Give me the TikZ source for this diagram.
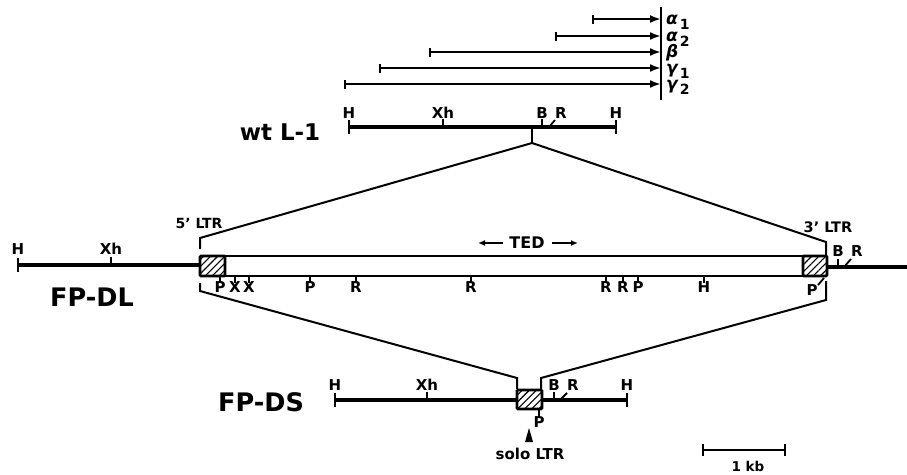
\documentclass[tikz,border=0pt]{standalone}
\usepackage{fontspec}
\setmainfont{DejaVu Sans}
\usetikzlibrary{arrows.meta,patterns.meta}

\tikzset{
  dna/.style={line width=3.2pt},
  rail/.style={line width=2.8pt},
  link/.style={line width=2pt},
  cut/.style={line width=1.8pt},
  tx/.style={line width=2.6pt,
    {Bar[width=9pt,line width=2pt]}-{Latex[length=11pt,width=8pt]}},
  tedarrow/.style={line width=1.8pt,-{Latex[length=7pt,width=6pt]}},
  site/.style={font=\fontsize{15}{15}\selectfont\bfseries, inner sep=0pt},
  ltrlabel/.style={font=\fontsize{14}{14}\selectfont\bfseries, inner sep=0pt},
  big/.style={font=\fontsize{25.5}{25.5}\selectfont\bfseries, inner sep=0pt},
  greek/.style={font=\fontsize{17}{17}\selectfont\bfseries\itshape, inner sep=0pt, anchor=base west},
  ltrbox/.style={draw, line width=2.8pt, fill=white,
    postaction={pattern={Lines[angle=45,distance=5pt,line width=1.1pt]}},
    rounded corners=1pt},
  endbar/.style={line width=2.2pt}
}

\newcommand{\gsub}[1]{\hspace{2pt}\raisebox{-5pt}{\fontsize{14}{14}\selectfont\bfseries\upshape #1}}

\begin{document}
\begin{tikzpicture}[x=1pt,y=-1pt]
\useasboundingbox (0,0) rectangle (907,474);

% ---------------- transcripts ----------------
\coordinate (axtop) at (661,7);
\coordinate (axbot) at (661,100);
\draw[line width=1.8pt] (axtop) -- (axbot);
\foreach \name/\xs/\y/\lab in {a1/592/19/{α\gsub{1}},
                               a2/555/36/{α\gsub{2}},
                               b/429/52/{β},
                               g1/379/68/{γ\gsub{1}},
                               g2/344/84/{γ\gsub{2}}}{
  \coordinate (\name s) at (\xs,\y);
  \draw[tx] (\name s) -- (\name s -| axtop);
  \node[greek] (\name lab) at (666,\y+5) {\lab};
}

% ---------------- wt L-1 ----------------
\node[big,font=\fontsize{23}{23}\selectfont\bfseries] (wtlab) at (280,132) {wt L-1};
\coordinate (wtL) at (349,127);
\coordinate (wtR) at (616,127);
\draw[dna] (wtL) -- (wtR);
\draw[endbar] (349,120) -- (349,134);
\draw[endbar] (616,120) -- (616,134);
\node[site,anchor=south] at (349,119) {H};
\node[site,anchor=south] at (616,119) {H};
\draw[cut] (443,127) -- (443,119);
\node[site,anchor=south] at (443,119) {Xh};
\draw[cut] (542,127) -- (542,119);
\node[site,anchor=south] at (542,119) {B};
\draw[cut] (549,127) -- (555,120);
\node[site,anchor=south] at (561,119) {R};
\coordinate (apex) at (532,143);
\draw[link] (532,129) -- (apex);

% ---------------- FP-DL ----------------
\node[big] (dllab) at (92,297) {FP-DL};
\coordinate (dlL) at (18,265);
\coordinate (box5w) at (200,265);
\draw[dna] (dlL) -- (box5w);
\draw[endbar] (18,258) -- (18,272);
\node[site,anchor=south] at (18,255) {H};
\draw[cut] (111,265) -- (111,257);
\node[site,anchor=south] at (111,255) {Xh};

% internal region (TED)
\draw[rail] (225,256) -- (803,256);
\draw[rail] (225,276) -- (803,276);
\node[ltrbox] (ltr5) at (212.5,266) [minimum width=25pt, minimum height=20pt] {};
\node[ltrbox] (ltr3) at (815,266) [minimum width=24pt, minimum height=20pt] {};

% sites below the element
\foreach \x/\l in {220/P,235/X,249/X,310/P,356/R,471/R,606/R,623/R,638/P,704/H}{
  \draw[cut] (\x,276) -- (\x,283);
  \node[site,anchor=north] at (\x,281) {\l};
}

% TED label
\node[ltrlabel,font=\fontsize{16}{16}\selectfont\bfseries] (ted) at (527,243) {TED};
\coordinate (tedLt) at (503,243);
\coordinate (tedLh) at (478,243);
\coordinate (tedRt) at (552,243);
\coordinate (tedRh) at (578,243);
\draw[tedarrow] (tedLt) -- (tedLh);
\draw[tedarrow] (tedRt) -- (tedRh);

% right flank
\coordinate (dlR) at (907,267);
\draw[dna] (ltr3.east |- dlR) -- (dlR);
\draw[cut] (838,267) -- (838,259);
\node[site,anchor=south] at (838,257) {B};
\draw[cut] (844,267) -- (851,259);
\node[site,anchor=south] at (857,257) {R};
\draw[cut] (824,278) -- (818,285);
\node[site,anchor=north] at (812,284) {P};

% LTR labels
\node[ltrlabel] (l5) at (199,223) {5' LTR};
\node[ltrlabel,font=\fontsize{14.5}{14.5}\selectfont\bfseries] (l3) at (828,227) {3' LTR};

% ---------------- brackets ----------------
\coordinate (u5) at (200,238);
\coordinate (u3) at (826,242);
\draw[link] (200,249) -- (u5) -- (apex) -- (u3) -- (826,256);

\coordinate (d5) at (200,291);
\coordinate (d3) at (826,300);
\coordinate (s5) at (517,378);
\coordinate (s3) at (541,378);
\draw[link] (200,283) -- (d5) -- (s5) -- (517,389);
\draw[link] (826,281) -- (d3) -- (s3) -- (541,389);

% ---------------- FP-DS ----------------
\node[big] (dslab) at (261,402) {FP-DS};
\coordinate (dsL) at (335,400);
\coordinate (dsR) at (627,400);
\draw[dna] (dsL) -- (dsR);
\draw[endbar] (335,393) -- (335,407);
\draw[endbar] (627,393) -- (627,407);
\node[site,anchor=south] at (335,391) {H};
\node[site,anchor=south] at (627,391) {H};
\draw[cut] (427,400) -- (427,392);
\node[site,anchor=south] at (427,391) {Xh};
\node[ltrbox] (solo) at (529.5,399.5) [minimum width=25pt, minimum height=19pt] {};
\draw[cut] (554,400) -- (554,392);
\node[site,anchor=south] at (554,391) {B};
\draw[cut] (560,400) -- (567,393);
\node[site,anchor=south] at (573,391) {R};
\draw[cut] (539,409) -- (539,417);
\node[site,anchor=north] at (539,416) {P};
\fill (529,428) -- (533,442) -- (525,442) -- cycle;
\node[ltrlabel,font=\fontsize{15}{15}\selectfont\bfseries] (sololab) at (530,454) {solo LTR};

% ---------------- scale bar ----------------
\coordinate (sbL) at (703,450);
\coordinate (sbR) at (785,450);
\draw[line width=2.2pt] (sbL) -- (sbR);
\draw[endbar] (703,444) -- (703,456);
\draw[endbar] (785,444) -- (785,456);
\node[ltrlabel,font=\fontsize{13.5}{13.5}\selectfont\bfseries] (kb) at (748,466) {1 kb};
\end{tikzpicture}
\end{document}
